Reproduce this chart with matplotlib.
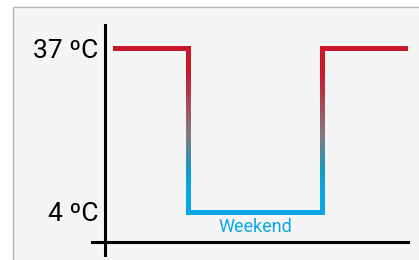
import numpy as np
import matplotlib
matplotlib.use("Agg")
import matplotlib.pyplot as plt
from matplotlib.collections import LineCollection
from matplotlib.colors import LinearSegmentedColormap
from matplotlib.patches import Rectangle

# Dữ liệu: nhiệt độ theo giai đoạn (ngày thường - cuối tuần - ngày thường)
t_edges = [0.0, 1.0, 2.79, 3.93]
temps = [37, 4, 37]
phase_labels = ["", "Weekend", ""]
tick_temps = [4, 37]
tick_labels = ["4 ºC", "37 ºC"]

RED = "#c8182a"
BLUE = "#0aa7e8"
cmap = LinearSegmentedColormap.from_list(
    "temp", [(0.0, BLUE), (0.13, BLUE), (0.27, "#1898c0"), (0.48, "#85797f"), (0.85, RED), (1.0, RED)])

fig = plt.figure(figsize=(4.19, 2.60), dpi=100)
fig.patch.set_facecolor("white")

# khung nền xám
frame = Rectangle((13 / 419, -0.1), 1.2, 0.1 + (253 / 260), transform=fig.transFigure,
                  facecolor="#f5f5f5", edgecolor="#b4b4b4", linewidth=1.0, zorder=-5)
fig.patches.append(frame)

ax = fig.add_axes([0, 0, 1, 1])
ax.set_zorder(1)
ax.patch.set_alpha(0)
ax.set_xlim(-1.507, 4.08)
ax.set_ylim(-5.66, 46.66)

lw = 3.6
tmin, tmax = min(temps), max(temps)

# các đoạn ngang
for i, T in enumerate(temps):
    col = RED if T == tmax else BLUE
    x0, x1 = t_edges[i], t_edges[i + 1]
    if i == 0:
        x0 += 0.033
    if i == len(temps) - 1:
        x1 -= 0.033
    ax.plot([x0, x1], [T, T], color=col, lw=lw, solid_capstyle="projecting", zorder=3)
    if phase_labels[i]:
        ax.annotate(phase_labels[i], xy=((t_edges[i] + t_edges[i + 1]) / 2, T),
                    xytext=(0, -11), textcoords="offset points", ha="center", va="center",
                    color=BLUE, fontsize=13, family="Roboto")

# các đoạn dọc với gradient màu
for i in range(1, len(temps)):
    x = t_edges[i]
    ys = np.linspace(temps[i - 1], temps[i], 120)
    segs = [[(x, ys[k]), (x, ys[k + 1])] for k in range(len(ys) - 1)]
    mids = (ys[:-1] + ys[1:]) / 2
    cols = cmap((mids - tmin) / (tmax - tmin))
    lc = LineCollection(segs, colors=cols, linewidths=lw, capstyle="butt",
                        antialiaseds=False, zorder=2)
    ax.add_collection(lc)

# trục
ax.spines["top"].set_visible(False)
ax.spines["right"].set_visible(False)
ax.spines["left"].set_position(("data", -0.107))
ax.spines["left"].set_bounds(-4.65, 41.6)
ax.spines["bottom"].set_position(("data", -2.04))
ax.spines["bottom"].set_bounds(-0.28, 3.933)
for s in ["left", "bottom"]:
    ax.spines[s].set_linewidth(2.2)
    ax.spines[s].set_color("black")

ax.set_xticks([])
ax.set_yticks(tick_temps)
ax.set_yticklabels(tick_labels, fontsize=19, family="Roboto")
ax.tick_params(axis="y", length=0, pad=4.5)

fig.savefig("out.png", dpi=100)
